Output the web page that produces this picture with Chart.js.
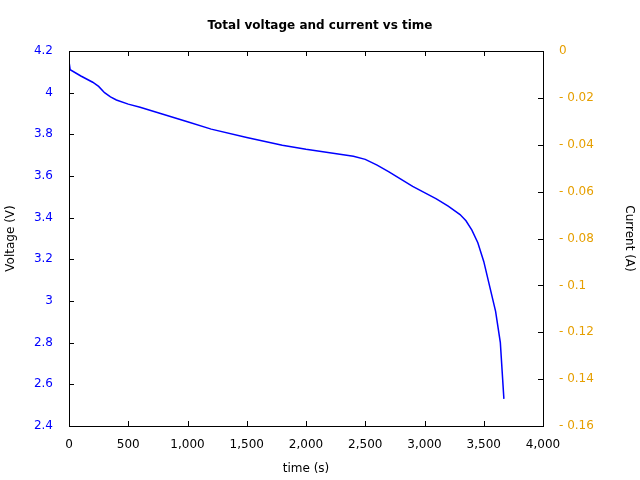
<!DOCTYPE html>
<html><head><script src="https://cdn.jsdelivr.net/npm/chart.js@4"></script>
<style>body{margin:0;background:#fff}</style></head>
<body><div style="width:640px;height:480px"><canvas id="c" width="640" height="480"></canvas></div>
<script>
const timeS=[0,10,100,200,250,300,350,400,500,600,800,1000,1200,1500,1800,2000,2200,2400,2500,2600,2700,2800,2900,3000,3100,3200,3300,3350,3400,3450,3500,3550,3600,3640,3670];
const voltageV=[4.15,4.11,4.08,4.05,4.03,4.0,3.98,3.965,3.945,3.93,3.895,3.86,3.825,3.785,3.748,3.728,3.712,3.695,3.68,3.652,3.62,3.585,3.55,3.52,3.49,3.455,3.415,3.385,3.34,3.28,3.19,3.07,2.95,2.8,2.53];
const ORANGE='#e69f00';
const frame={id:'frame',afterDraw(ch){const c=ch.ctx,a=ch.chartArea;c.save();c.strokeStyle='#000';c.lineWidth=1;
c.strokeRect(a.left+0.5,a.top+0.5,a.right-a.left,a.bottom-a.top);
const L=5;
ch.scales.x.ticks.forEach(t=>{const p=Math.round(ch.scales.x.getPixelForValue(t.value))+0.5;c.beginPath();c.moveTo(p,a.bottom);c.lineTo(p,a.bottom-L);c.moveTo(p,a.top);c.lineTo(p,a.top+L);c.stroke();});
ch.scales.y.ticks.forEach(t=>{const p=Math.round(ch.scales.y.getPixelForValue(t.value))+0.5;c.beginPath();c.moveTo(a.left,p);c.lineTo(a.left+L,p);c.stroke();});
ch.scales.y2.ticks.forEach(t=>{const p=Math.round(ch.scales.y2.getPixelForValue(t.value))+0.5;c.beginPath();c.moveTo(a.right,p);c.lineTo(a.right-L,p);c.stroke();});
c.restore();}};
new Chart(document.getElementById('c'),{type:'line',
data:{datasets:[{data:timeS.map((t,i)=>({x:t,y:voltageV[i]})),borderColor:'#0000ff',borderWidth:1.5,pointRadius:0,tension:0,yAxisID:'y'}]},
options:{responsive:false,animation:false,layout:{padding:0},
plugins:{legend:{display:false},tooltip:{enabled:false},title:{display:true,text:'Total voltage and current vs time',color:'#000',font:{family:'DejaVu Sans',size:12,weight:'bold'},padding:{top:19,bottom:17.6}}},
scales:{
x:{type:'linear',min:0,max:4000,grid:{display:false},border:{display:false},afterFit(s){s.height=54;},
ticks:{stepSize:500,color:'#000',font:{family:'DejaVu Sans',size:12},padding:4,maxRotation:0},
title:{display:true,text:'time (s)',color:'#000',font:{family:'DejaVu Sans',size:12},padding:{top:6}}},
y:{min:2.4,max:4.2,position:'left',grid:{display:false},border:{display:false},afterFit(s){s.width=69;},
ticks:{stepSize:0.2,color:'#0000ff',font:{family:'DejaVu Sans',size:12},padding:8,callback:v=>+v.toFixed(1)},
title:{display:true,text:'Voltage (V)',color:'#000',font:{family:'DejaVu Sans',size:12},padding:{bottom:0}}},
y2:{min:-0.16,max:0,position:'right',grid:{display:false},border:{display:false},afterFit(s){s.width=97;},
ticks:{stepSize:0.02,color:ORANGE,font:{family:'DejaVu Sans',size:12},padding:8,callback:v=>{const r=+v.toFixed(2);return r===0?'0':String(r).replace('-','- ');}},
title:{display:true,text:'Current (A)',color:'#000',font:{family:'DejaVu Sans',size:12}}}}},
plugins:[frame]});
</script></body></html>
